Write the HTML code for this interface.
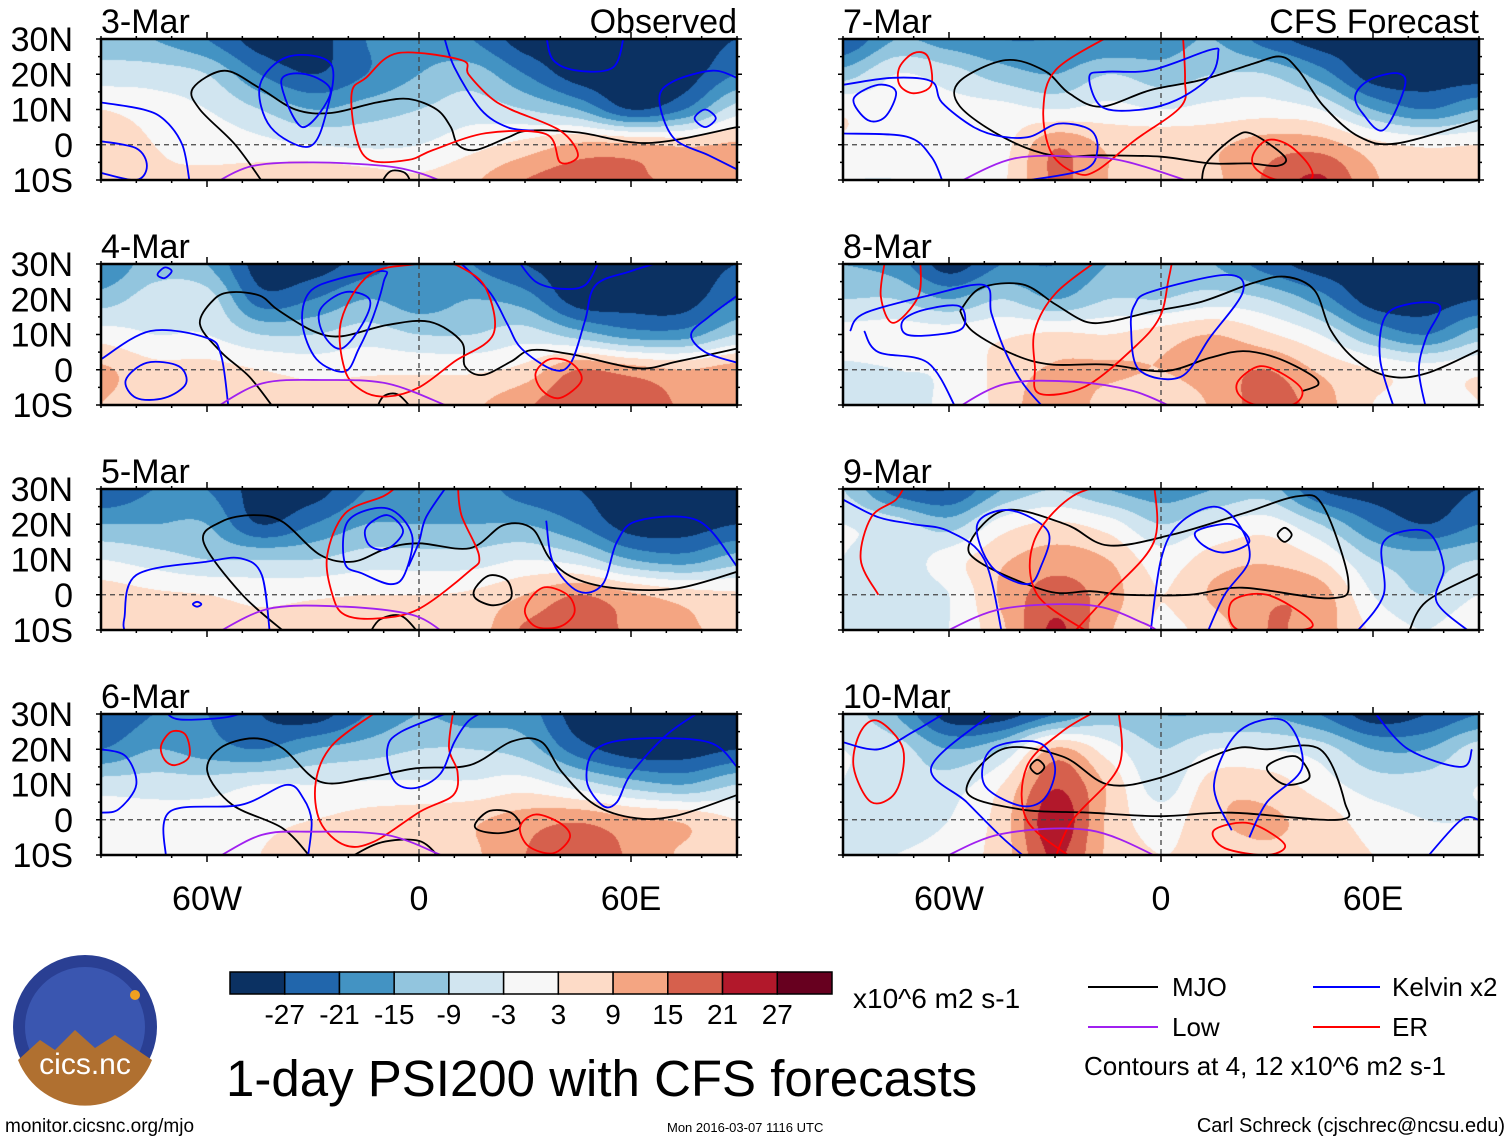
<!DOCTYPE html>
<html><head><meta charset="utf-8">
<style>
html,body{margin:0;padding:0;background:#fff;}
#wrap{position:relative;width:1510px;height:1142px;overflow:hidden;font-family:"Liberation Sans",Arial,sans-serif;}
#fill{position:absolute;left:0;top:0;}
#ov{position:absolute;left:0;top:0;}
text{font-family:"Liberation Sans",Arial,sans-serif;}
</style></head>
<body>
<div id="wrap">
<canvas id="fill" width="1510" height="1142"></canvas>
<svg id="ov" width="1510" height="1142" xmlns="http://www.w3.org/2000/svg">
  <g id="panels"></g>
  <g id="cbar"></g>
  <text x="853" y="1008" font-size="28">x10^6 m2 s-1</text>
  <g>
    <line x1="1088" y1="987" x2="1158" y2="987" stroke="#000" stroke-width="2"/>
    <text x="1172" y="996" font-size="26">MJO</text>
    <line x1="1313" y1="987" x2="1380" y2="987" stroke="#0000ff" stroke-width="2"/>
    <text x="1392" y="996" font-size="26">Kelvin x2</text>
    <line x1="1088" y1="1027" x2="1158" y2="1027" stroke="#a020f0" stroke-width="2"/>
    <text x="1172" y="1036" font-size="26">Low</text>
    <line x1="1313" y1="1027" x2="1380" y2="1027" stroke="#ff0000" stroke-width="2"/>
    <text x="1392" y="1036" font-size="26">ER</text>
    <text x="1084" y="1075" font-size="26">Contours at 4, 12 x10^6 m2 s-1</text>
  </g>
  <text x="226" y="1096" font-size="51">1-day PSI200 with CFS forecasts</text>
  <text x="5" y="1132" font-size="19">monitor.cicsnc.org/mjo</text>
  <text x="667" y="1132" font-size="13">Mon 2016-03-07 1116 UTC</text>
  <text x="1505" y="1132" font-size="20" text-anchor="end">Carl Schreck (cjschrec@ncsu.edu)</text>
  <g>
    <circle cx="85" cy="1027" r="72" fill="#2a3f93"/>
    <circle cx="85" cy="1027" r="60" fill="#3a56b0"/>
    <path d="M18,1060 L40,1040 L55,1050 L75,1030 L95,1048 L115,1035 L152,1060 A72,72 0 0 1 18,1060 Z" fill="#b07030"/>
    <circle cx="135" cy="995" r="5" fill="#f0a020"/>
    <text x="85" y="1074" font-size="30" fill="#fff" text-anchor="middle">cics.nc</text>
  </g>
</svg>
</div>
<script>
// ===== data =====
const lons=[-90,-75,-60,-45,-30,-15,0,15,30,45,60,75,90];
const lats=[30,20,10,0,-10];
const psiMar3=[[-12,-15,-21,-30,-30,-21,-18,-21,-30,-30,-30,-30,-27],[-6,-6,-9,-21,-27,-21,-15,-12,-21,-30,-30,-30,-21],[3,0,-3,-9,-15,-12,-9,-6,-9,-15,-27,-21,-6],[8,3,1,-1,-3,-4,-3,1,5,10,10,8,10],[8,4,4,6,8,6,4,8,15,18,16,14,13]];
const psiMar4=[[-21,-12,-15,-30,-30,-24,-18,-21,-27,-30,-30,-30,-27],[-12,-6,-6,-24,-21,-15,-18,-15,-18,-30,-30,-30,-21],[0,-3,-3,-9,-9,-6,-9,-9,-6,-12,-18,-18,-9],[10,5,5,3,1,2,2,2,5,15,12,9,12],[9,5,5,6,6,6,6,8,14,20,20,14,12]];
const psiMar5=[[-27,-21,-21,-30,-30,-21,-18,-18,-24,-27,-30,-30,-30],[-15,-15,-15,-27,-21,-15,-15,-15,-15,-21,-30,-30,-27],[-3,-6,-9,-9,-9,-6,-6,-6,-3,-6,-15,-18,-12],[6,4,3,1,2,3,3,4,9,15,10,6,4],[6,5,5,5,6,8,8,6,16,18,14,10,8]];
const psiMar6=[[-27,-21,-21,-27,-30,-21,-15,-18,-18,-30,-30,-30,-30],[-21,-15,-18,-21,-15,-12,-9,-9,-12,-24,-30,-30,-27],[-6,-6,-6,-3,-3,-2,-2,-2,0,-6,-12,-15,-9],[1,0,0,1,3,5,6,8,12,14,10,8,3],[2,1,0,3,8,8,6,8,15,20,14,8,5]];
const psiMar7=[[-27,-15,-18,-21,-21,-21,-18,-15,-24,-30,-30,-30,-30],[-12,-3,-6,-12,-15,-9,-12,-9,-9,-18,-30,-30,-30],[2,-1,-1,-1,-3,-1,-3,-1,0,-3,-15,-21,-15],[2,0,0,1,14,8,8,8,12,12,5,2,3],[-3,-3,-1,2,16,9,6,8,16,22,10,6,8]];
const psiMar8=[[-15,-18,-30,-21,-21,-15,-12,-15,-24,-30,-30,-30,-30],[-9,-9,-15,-9,-15,-9,-9,-6,-9,-18,-30,-30,-27],[-1,0,0,2,4,3,6,9,4,-3,-15,-21,-12],[-4,-3,-2,5,10,10,9,12,15,8,3,0,2],[-6,-4,-2,5,14,6,4,10,18,12,3,1,3]];
const psiMar9=[[-9,-24,-27,-15,-9,-15,-18,-15,-12,-27,-30,-30,-27],[-3,-6,-12,0,4,0,-9,-3,0,-9,-21,-27,-21],[-3,-6,0,8,12,9,0,6,8,3,-9,-12,-9],[-3,-6,-3,10,18,12,3,10,14,12,-3,-9,-3],[-3,-6,-3,8,22,10,2,6,15,12,2,-3,3]];
const psiMar10=[[-6,-15,-30,-30,-21,-12,-15,-15,-15,-21,-30,-27,-21],[-3,-6,-15,-9,10,0,-9,-3,-3,-6,-15,-15,-6],[-3,-6,-6,3,20,8,-6,6,6,0,-6,-6,-3],[-3,-6,-3,6,25,8,0,8,10,6,0,-3,-3],[-3,-3,0,6,22,8,3,6,8,6,3,0,0]];
const levels=[-27,-21,-15,-9,-3,3,9,15,21,27];
const levelLabels=["-27","-21","-15","-9","-3","3","9","15","21","27"];
const lonTicks=[-60,0,60];
const lonTickLabels=["60W","0","60E"];
const latTicks=[30,20,10,0,-10];
const latTickLabels=["30N","20N","10N","0","10S"];
const curvesMar3=[
 {t:'mjo',c:0,p:[[-44,-11],[-52,0],[-62,10],[-64,16],[-55,21],[-45,16],[-35,10],[-25,9],[-12,12],[-3,13],[5,10],[9,5],[11,0],[16,-1.5],[25,2],[31,4],[45,3.5],[65,0.5],[90,5]]},
 {t:'mjo',c:1,p:[[-10,-11],[-8,-7.5],[-4,-8],[-3,-11]]},
 {t:'kelvin',c:1,p:[[-45,17],[-37,25],[-25,23],[-26,10],[-31,-0.5],[-42,5]]},
 {t:'kelvin',c:1,p:[[-39,18],[-32,20],[-25,15],[-33,5]]},
 {t:'kelvin',c:0,p:[[-90,12],[-78,10],[-72,7],[-67,0],[-65,-10]]},
 {t:'kelvin',c:0,p:[[-90,1],[-80,-1],[-77,-6],[-80,-10],[-90,-8]]},
 {t:'kelvin',c:0,p:[[7,31],[10,22],[17.5,10],[25,5],[32.5,4]]},
 {t:'kelvin',c:0,p:[[36,31],[38,24],[45,21],[55,22],[58,31]]},
 {t:'kelvin',c:0,p:[[90,19],[83,21],[72,18],[68,13],[72,2],[82,-3],[90,-7]]},
 {t:'kelvin',c:1,p:[[78,7.5],[81,10],[84,7.5],[81,5]]},
 {t:'er',c:1,p:[[-6,26],[12,24],[14,20],[20,13.6],[26,10],[40,4],[45,-3],[40,-5],[36,3],[19,3.3],[4,-1.5],[-3,-4.3],[-14,-4.3],[-18,3],[-19,15],[-15,19]]},
 {t:'low',c:0,p:[[-58,-11],[-47,-6],[-30,-5],[-10,-6],[0,-8],[8,-11]]}
];
const curvesMar4=[
 {t:'mjo',c:0,p:[[-41,-11],[-48,-2],[-56,5],[-62,13],[-58,20],[-53,22],[-45,21],[-40,17],[-30,11],[-22,9.5],[-9,12.7],[3,13.6],[12,8],[13,1],[18,-1.5],[26,2.3],[32,5.6],[44,4.2],[62,0.4],[73,2.3],[90,6]]},
 {t:'mjo',c:0,p:[[-12,-11],[-10,-7.5],[-6,-7],[-2,-11]]},
 {t:'kelvin',c:1,p:[[-10,28],[-22,26],[-31,22],[-33,13],[-29,3],[-21,-0.5],[-17,6],[-13,15],[-10,25]]},
 {t:'kelvin',c:1,p:[[-28,17],[-21,22],[-14,20],[-16,13],[-22,6],[-27,10]]},
 {t:'kelvin',c:0,p:[[-90,3],[-76,11],[-60,9],[-56,4],[-54,-10]]},
 {t:'kelvin',c:1,p:[[-83,-3],[-77,2],[-68,1],[-66,-4],[-72,-8],[-80,-8]]},
 {t:'kelvin',c:1,p:[[-74,27],[-72,29],[-70,28],[-72,26]]},
 {t:'kelvin',c:0,p:[[11,31],[20,22],[25,13],[29,6],[38,0],[43,2],[47,14],[50,24],[60,28],[70,31]]},
 {t:'kelvin',c:0,p:[[28,31],[33,25],[40,23],[47,24],[51,31]]},
 {t:'kelvin',c:0,p:[[90,21],[82,15],[77,10],[81,5],[90,2]]},
 {t:'er',c:1,p:[[-1,30],[-14,27],[-22,14],[-21,0],[-16,-6],[-9,-7.6],[0,-5],[10,2.3],[21,10],[19,23],[12,29],[5,31]]},
 {t:'er',c:1,p:[[33,-1],[37,3],[43,2],[46,-3],[40,-8],[35,-6]]},
 {t:'low',c:0,p:[[-58,-11],[-44.5,-3.9],[-27,-2.9],[-9,-3.9],[7.4,-10]]}
];
const curvesMar5=[
 {t:'mjo',c:0,p:[[-37.5,-11],[-50,0],[-61,15],[-56,20.7],[-47,22.6],[-38.6,20.7],[-28,11.3],[-18.6,9.4],[-9,13.2],[0,14.6],[14.4,13.2],[24,19.8],[32,18.8],[37,10.3],[44,4.7],[56,1.8],[73,1.8],[90,6.5]]},
 {t:'mjo',c:1,p:[[16,2],[20,5.5],[25,4],[26,-1],[21,-3],[16,-1]]},
 {t:'mjo',c:0,p:[[-14,-11],[-11,-7],[-5,-6],[0,-11]]},
 {t:'kelvin',c:1,p:[[-21,9],[-20,21],[-9,24.5],[-2,17],[-4,6],[-8,3],[-16,6]]},
 {t:'kelvin',c:1,p:[[-15,19],[-9,22.6],[-4.5,18],[-9,13],[-14,14]]},
 {t:'kelvin',c:0,p:[[8,31],[2,22],[0,15],[-3,8]]},
 {t:'kelvin',c:0,p:[[-83.4,-10],[-83.4,-6.7],[-80,5.6],[-60,9.4],[-50.4,10.3],[-44.5,5.6],[-42.2,-11]]},
 {t:'kelvin',c:1,p:[[-64,-2.7],[-62.8,-2],[-61.6,-2.7],[-62.8,-3.4]]},
 {t:'kelvin',c:0,p:[[36,21],[38,9],[45,1],[52,3],[56,15],[62,21],[79,21],[90,8]]},
 {t:'er',c:0,p:[[-6,31],[-10,28],[-21,23],[-26,11],[-24.5,0],[-21,-5.7],[-11.5,-6.7],[0,-4],[14,6.5],[17,11],[12,22.6],[11,31]]},
 {t:'er',c:1,p:[[30,-4],[35,2],[42,0],[44,-5],[40,-9],[33,-9]]},
 {t:'low',c:0,p:[[-57.5,-11],[-42.2,-3.9],[-21,-3.4],[-2,-5.7],[7.4,-11]]}
];
const curvesMar6=[
 {t:'mjo',c:0,p:[[-30.4,-11],[-38.6,-2.4],[-52.8,4.2],[-59.9,13.6],[-56.3,20.3],[-46.9,23.1],[-38.6,20.3],[-28,10.8],[-15,11.8],[-1,14.6],[14.4,15.5],[26.2,22.2],[34.5,22.2],[40.4,13.6],[49.8,4.2],[61.6,0.4],[73.4,1.3],[90,7]]},
 {t:'mjo',c:1,p:[[16,-1],[20,2.5],[26,2],[28.6,-2],[23,-3.8],[17,-3]]},
 {t:'mjo',c:0,p:[[-20,-11],[-11,-6.5],[0,-6],[6,-11]]},
 {t:'er',c:1,p:[[-73,21],[-70,25],[-66,24],[-65,18],[-69,15.5],[-72,17]]},
 {t:'er',c:0,p:[[-11.5,31],[-24.5,21.2],[-29.2,10.8],[-28,-0.5],[-21,-7.2],[-12.7,-6.2],[0.3,2.3],[9.7,7],[10.9,13.6],[8.5,20.3],[9.7,31]]},
 {t:'er',c:1,p:[[28.6,-2],[33,1.5],[40,-1],[42.7,-5],[38,-9.5],[31,-7.5]]},
 {t:'kelvin',c:0,p:[[10,31],[-5,25],[-9,20],[-7,11],[-1,9],[6,13],[10,22],[14,28],[19,31]]},
 {t:'kelvin',c:0,p:[[-90,20],[-83,18],[-80,10],[-85,3],[-90,2]]},
 {t:'kelvin',c:0,p:[[-71.6,-11],[-70.5,2.3],[-50.4,4.2],[-37.5,9.9],[-32.7,6],[-30.4,-0.5],[-31.5,-11]]},
 {t:'kelvin',c:0,p:[[-72,31],[-68,28.5],[-55,29],[-48,31]]},
 {t:'kelvin',c:0,p:[[90,15],[82,22],[62,23],[50,20],[47.5,11],[52,4],[56,5],[60,13],[70,24],[80,31]]},
 {t:'low',c:0,p:[[-57.5,-11],[-44.5,-4.3],[-30.4,-3.4],[-9.2,-4.3],[6.2,-10]]}
];
const curvesMar7=[
 {t:'mjo',c:0,p:[[11.5,-11],[13,-5],[21,2.3],[26,3],[35,-3.4],[33,-6],[25,-5.3],[14,-5.3],[0,-3.4],[-17,-3],[-31,-3],[-45,2.3],[-57,11],[-57,18],[-44,24],[-33,21],[-26,14.6],[-17,10.8],[-3,15.5],[11.5,18.4],[26,23],[34,25],[39,21],[46,11],[56,2.3],[67,0.4],[90,7]]},
 {t:'er',c:1,p:[[-74,22],[-70,26],[-66,25],[-65,17],[-70,14.6],[-74,17]]},
 {t:'er',c:0,p:[[-14.4,31],[-29.8,21.2],[-33.3,9.9],[-31,-2.4],[-23.9,-8.1],[-18,-7.2],[-7.4,1.3],[5.6,10.8],[6.8,18.4],[6.2,31]]},
 {t:'er',c:1,p:[[26,-3],[30,1.3],[36,0],[42,-6],[42,-10],[33,-10],[27,-7]]},
 {t:'kelvin',c:1,p:[[-87,13],[-80,17],[-75,15],[-78,8],[-83,7]]},
 {t:'kelvin',c:0,p:[[-90,17],[-76,19],[-65,18],[-62,12],[-53,5],[-45,2.3],[-37,2.3],[-29,6],[-20,4.2],[-18,-1.5],[-21.5,-7],[-37,-10]]},
 {t:'kelvin',c:0,p:[[-90,3.2],[-72,2.3],[-65,-3.4],[-61.6,-11]]},
 {t:'kelvin',c:1,p:[[-20.3,19.3],[-15.6,20.7],[-2.6,21.2],[13.9,26.9],[16.2,26],[13.9,19.3],[4.4,12.7],[-6.2,9.9],[-16.8,10.8]]},
 {t:'kelvin',c:1,p:[[55,14],[59,18.4],[67,20.3],[69,16.5],[63,4.2],[57,9]]},
 {t:'low',c:0,p:[[-58,-11],[-41.6,-3.9],[-21.5,-3.4],[-9.7,-4.8],[6.8,-10]]}
];
const curvesMar8=[
 {t:'mjo',c:0,p:[[-39.8,-6.1],[-44.5,-4.2],[-42.2,-1.3],[-32.7,3.4],[-23.2,5.3],[-13.9,3.4],[-0.9,-0.4],[15.6,1.5],[31,1.5],[41.6,4.3],[53.3,10.9],[56.9,16.7]].map(q=>[-q[0]+0,q[1]]).reverse().concat([])},
 {t:'mjo',c:0,p:[[-56.9,16.7],[-51,23.2],[-39.2,24.2],[-29.8,18.5],[-21.5,13.7],[-14.4,13.7],[-2.6,16.5],[11.5,19.3],[25.7,24.5],[35.1,26.4],[43.4,22.6],[48,11.3],[55.1,2.8],[64.6,-1.9],[75.2,-1],[90,5.6]]},
 {t:'er',c:0,p:[[-78.1,31],[-79.3,20.8],[-75.8,13.3],[-68.7,20.8],[-68.1,31]]},
 {t:'er',c:0,p:[[-18,31],[-29.8,21.7],[-35.7,11.3],[-35.7,0.9],[-34.5,-6.7],[-21.5,-4.8],[-7.4,6.5],[-0.3,15],[2.1,25.5],[3.2,31]]},
 {t:'er',c:1,p:[[22,-3],[28,1],[35,-1.5],[40,-6],[37,-10],[27,-10],[22,-7]]},
 {t:'kelvin',c:0,p:[[-88,11],[-84,16],[-66,21],[-50,24],[-48,16],[-44,5],[-39,-4],[-33,-11]]},
 {t:'kelvin',c:0,p:[[-84,11],[-80,5],[-66,2],[-58,-11]]},
 {t:'kelvin',c:1,p:[[-73,14],[-67,17],[-57,18],[-56,12],[-63,10],[-72,10]]},
 {t:'kelvin',c:1,p:[[-7.4,18.5],[-2.6,22.2],[18.6,26.9],[23.2,22.2],[13.9,9.2],[5.6,-2],[-6.2,0],[-8.5,12]]},
 {t:'kelvin',c:0,p:[[66,-11],[62,3],[63.4,15],[70.5,18.7],[79,18],[75,9],[73,0],[75,-11]]},
 {t:'low',c:0,p:[[-58,-11],[-44,-4],[-25,-3.4],[-8,-6],[4,-11]]}
];
const curvesMar9=[
 {t:'mjo',c:1,p:[[-54,15],[-44,24],[-27,20],[-15,14],[3,17],[23,23],[39,28],[46,25],[53,4],[48,-1],[23,2],[8,0],[-10,0],[-20,1],[-32,1],[-51,9]]},
 {t:'mjo',c:0,p:[[90,6],[75,-2],[70,-11]]},
 {t:'mjo',c:1,p:[[33,17],[35,19],[37,17],[35,15]]},
 {t:'kelvin',c:1,p:[[-38,3],[-48,8],[-52,20],[-43,24],[-32,18],[-34,8]]},
 {t:'kelvin',c:0,p:[[-90,27],[-80,22],[-70,20],[-60,18],[-50,10],[-45,-11]]},
 {t:'kelvin',c:0,p:[[-3,-11],[0,10],[5,20],[15,25],[22,20],[25,10],[18,0],[13,-11]]},
 {t:'kelvin',c:1,p:[[10,18],[20,20],[25,15],[18,12],[12,14]]},
 {t:'kelvin',c:0,p:[[55,-11],[63,0],[63,15],[75,18],[80,8],[78,-2],[88,-11]]},
 {t:'er',c:0,p:[[-80,0],[-85,10],[-82,22],[-75,27],[-72,32]]},
 {t:'er',c:0,p:[[-20,-11],[-35,0],[-36,15],[-25,28],[-10,32]]},
 {t:'er',c:0,p:[[-2,32],[-2,15],[-15,0],[-25,-11]]},
 {t:'er',c:1,p:[[20,-2],[30,0],[42,-7],[40,-10],[22,-10]]},
 {t:'low',c:0,p:[[-62,-11],[-45,-4],[-20,-3],[-5,-8],[0,-11]]}
];
const curvesMar10=[
 {t:'mjo',c:1,p:[[-55,8],[-45,20],[-28,18],[-15,10],[0,12],[20,20],[30,20],[45,20],[52,5],[50,0],[20,2],[0,1],[-20,2],[-40,3]]},
 {t:'mjo',c:1,p:[[-37,15],[-35,17],[-33,15],[-35,13]]},
 {t:'mjo',c:1,p:[[30,15],[38,18],[42,12],[35,10]]},
 {t:'er',c:0,p:[[-25,-11],[-38,0],[-38,15],[-28,25],[-18,31]]},
 {t:'er',c:0,p:[[-12,31],[-12,15],[-25,0],[-30,-11]]},
 {t:'er',c:1,p:[[-85,25],[-87,15],[-82,5],[-75,8],[-73,20],[-80,28]]},
 {t:'er',c:1,p:[[15,-3],[25,-1],[35,-7],[30,-10],[18,-8]]},
 {t:'kelvin',c:1,p:[[-40,4],[-50,10],[-48,20],[-35,22],[-30,15],[-33,6]]},
 {t:'kelvin',c:0,p:[[-90,22],[-80,20],[-70,25],[-60,31]]},
 {t:'kelvin',c:0,p:[[-48,30],[-65,15],[-55,5],[-45,-5],[-38,-11]]},
 {t:'kelvin',c:0,p:[[20,-3],[15,10],[22,25],[35,28],[40,15],[30,5],[25,-5]]},
 {t:'kelvin',c:0,p:[[60,31],[70,20],[85,15],[88,20]]},
 {t:'kelvin',c:0,p:[[75,-11],[85,0],[90,0]]},
 {t:'low',c:0,p:[[-62,-11],[-45,-4],[-20,-3],[0,-11]]}
];
// fix 8-Mar lower MJO branch (listed east-to-west above)
curvesMar8[0].p=[[39.8,-6.1],[44.5,-4.2],[42.2,-1.3],[32.7,3.4],[23.2,5.3],[13.9,3.4],[0.9,-0.4],[-15.6,1.5],[-31,1.5],[-41.6,4.3],[-53.3,10.9],[-56.9,16.7]];
const panelDates=["3-Mar","4-Mar","5-Mar","6-Mar","7-Mar","8-Mar","9-Mar","10-Mar"];
const panelFields=[psiMar3,psiMar4,psiMar5,psiMar6,psiMar7,psiMar8,psiMar9,psiMar10];
const panelCurves=[curvesMar3,curvesMar4,curvesMar5,curvesMar6,curvesMar7,curvesMar8,curvesMar9,curvesMar10];

// ===== layout =====
const colors=["#0b3162","#2166ac","#4393c3","#92c5de","#d1e5f0","#f7f7f7","#fddbc7","#f4a582","#d6604d","#b2182b","#67001f"];
const lineColors={mjo:"#000000",kelvin:"#0000ff",er:"#ff0000",low:"#a020f0"};
const PW=636,PH=141;
const colX=[101,843], rowY=[39,264,489,714];
function xOf(x0,lon){return x0+(lon+90)/180*PW;}
function yOf(y0,lat){return y0+(30-lat)/40*PH;}
function hexRgb(h){return [parseInt(h.slice(1,3),16),parseInt(h.slice(3,5),16),parseInt(h.slice(5,7),16)];}
const rgbs=colors.map(hexRgb);
function cr(p0,p1,p2,p3,t){return 0.5*((2*p1)+(-p0+p2)*t+(2*p0-5*p1+4*p2-p3)*t*t+(-p0+3*p1-3*p2+p3)*t*t*t);}
function sample(F,fi,fj){
  const nI=F[0].length,nJ=F.length;
  const i=Math.floor(fi),j=Math.floor(fj),tx=fi-i,ty=fj-j;
  const g=(a,b)=>F[Math.max(0,Math.min(nJ-1,b))][Math.max(0,Math.min(nI-1,a))];
  const r=[];
  for(let m=-1;m<=2;m++){r.push(cr(g(i-1,j+m),g(i,j+m),g(i+1,j+m),g(i+2,j+m),tx));}
  return cr(r[0],r[1],r[2],r[3],ty);
}
const ctx=document.getElementById('fill').getContext('2d');
const svgNS="http://www.w3.org/2000/svg";
const G=document.getElementById('panels');
function mk(tag,attrs,parent){const e=document.createElementNS(svgNS,tag);for(const k in attrs)e.setAttribute(k,attrs[k]);parent.appendChild(e);return e;}
function pathFrom(pts,closed){
  const n=pts.length;let d="M"+pts[0][0].toFixed(1)+","+pts[0][1].toFixed(1);
  const P=k=>closed?pts[(k+n)%n]:pts[Math.max(0,Math.min(n-1,k))];
  const segs=closed?n:n-1;
  for(let k=0;k<segs;k++){
    const p0=P(k-1),p1=P(k),p2=P(k+1),p3=P(k+2);
    const c1=[p1[0]+(p2[0]-p0[0])/6,p1[1]+(p2[1]-p0[1])/6];
    const c2=[p2[0]-(p3[0]-p1[0])/6,p2[1]-(p3[1]-p1[1])/6];
    d+=" C"+c1[0].toFixed(1)+","+c1[1].toFixed(1)+" "+c2[0].toFixed(1)+","+c2[1].toFixed(1)+" "+p2[0].toFixed(1)+","+p2[1].toFixed(1);
  }
  if(closed)d+="Z";return d;
}
const defs=mk('defs',{},G);
for(let p=0;p<8;p++){
  const col=p<4?0:1,row=p%4,x0=colX[col],y0=rowY[row];
  const F=panelFields[p];
  const img=ctx.createImageData(PW,PH);
  for(let y=0;y<PH;y++){
    const lat=30-(y+0.5)/PH*40, fj=(30-lat)/10;
    for(let x=0;x<PW;x++){
      const lon=-90+(x+0.5)/PW*180, fi=(lon+90)/15;
      const v=sample(F,fi,fj);
      let i=0;while(i<levels.length&&v>=levels[i])i++;
      const c=rgbs[i],o=(y*PW+x)*4;
      img.data[o]=c[0];img.data[o+1]=c[1];img.data[o+2]=c[2];img.data[o+3]=255;
    }
  }
  ctx.putImageData(img,x0,y0);
  const g=mk('g',{},G);
  
  
  const cp=mk('clipPath',{id:'clip'+p},defs);
  mk('rect',{x:x0,y:y0,width:PW,height:PH},cp);
  const eq=mk('line',{x1:x0,x2:x0+PW,y1:yOf(y0,0),y2:yOf(y0,0),stroke:"#444",'stroke-width':1.3,'stroke-dasharray':"5,4"},g);
  
  
  const pm=mk('line',{x1:xOf(x0,0),x2:xOf(x0,0),y1:y0,y2:y0+PH,stroke:"#444",'stroke-width':1.3,'stroke-dasharray':"5,4"},g);
  
  
  const cg=mk('g',{'clip-path':'url(#clip'+p+')'},g);
  panelCurves[p].forEach(cv=>{
    const pts=cv.p.map(q=>[xOf(x0,q[0]),yOf(y0,q[1])]);
    const e=mk('path',{d:pathFrom(pts,cv.c===1),fill:'none',stroke:lineColors[cv.t],'stroke-width':1.8},cg);
    
    
  });
  const fr=mk('rect',{x:x0,y:y0,width:PW,height:PH,fill:'none',stroke:'#000','stroke-width':2.5},g);
  
  
  for(let lon=-90;lon<=90;lon+=10){
    const X=xOf(x0,lon),major=lonTicks.indexOf(lon)>=0,L=major?7:3;
    mk('line',{x1:X,x2:X,y1:y0,y2:y0-L,stroke:'#000','stroke-width':1.5},g);
    mk('line',{x1:X,x2:X,y1:y0+PH,y2:y0+PH+L,stroke:'#000','stroke-width':1.5},g);
  }
  for(let lat=-10;lat<=30;lat+=5){
    const Y=yOf(y0,lat),major=latTicks.indexOf(lat)>=0,L=major?5:3;
    mk('line',{x1:x0,x2:x0-L,y1:Y,y2:Y,stroke:'#000','stroke-width':1.5},g);
    mk('line',{x1:x0+PW,x2:x0+PW+L,y1:Y,y2:Y,stroke:'#000','stroke-width':1.5},g);
  }
  const tl=mk('text',{x:x0,y:y0-6,'font-size':34},g);tl.textContent=panelDates[p];
  
  
  if(row===0){
    const st=mk('text',{x:x0+PW,y:y0-6,'font-size':34,'text-anchor':'end'},g);
    st.textContent=col===0?"Observed":"CFS Forecast";
    
    
  }
  if(col===0){
    latTicks.forEach((lt,k)=>{
      const t=mk('text',{x:73,y:yOf(y0,lt)+12,'font-size':34,'text-anchor':'end'},g);
      t.textContent=latTickLabels[k];
      
      
    });
  }
  if(row===3){
    lonTicks.forEach((ln,k)=>{
      const t=mk('text',{x:xOf(x0,ln),y:y0+PH+55,'font-size':34,'text-anchor':'middle'},g);
      t.textContent=lonTickLabels[k];
      
      
    });
  }
}
const CB=document.getElementById('cbar');
const cbX=230,cbY=972,cbW=602,cbH=22,bw=cbW/colors.length;
colors.forEach((c,k)=>{
  const r=mk('rect',{x:cbX+k*bw,y:cbY,width:bw,height:cbH,fill:c,stroke:'#000','stroke-width':1.5},CB);
  
  
});
levelLabels.forEach((l,k)=>{
  const t=mk('text',{x:cbX+(k+1)*bw,y:1024,'font-size':28,'text-anchor':'middle'},CB);
  t.textContent=l;
  
  
});
</script>
</body></html>
